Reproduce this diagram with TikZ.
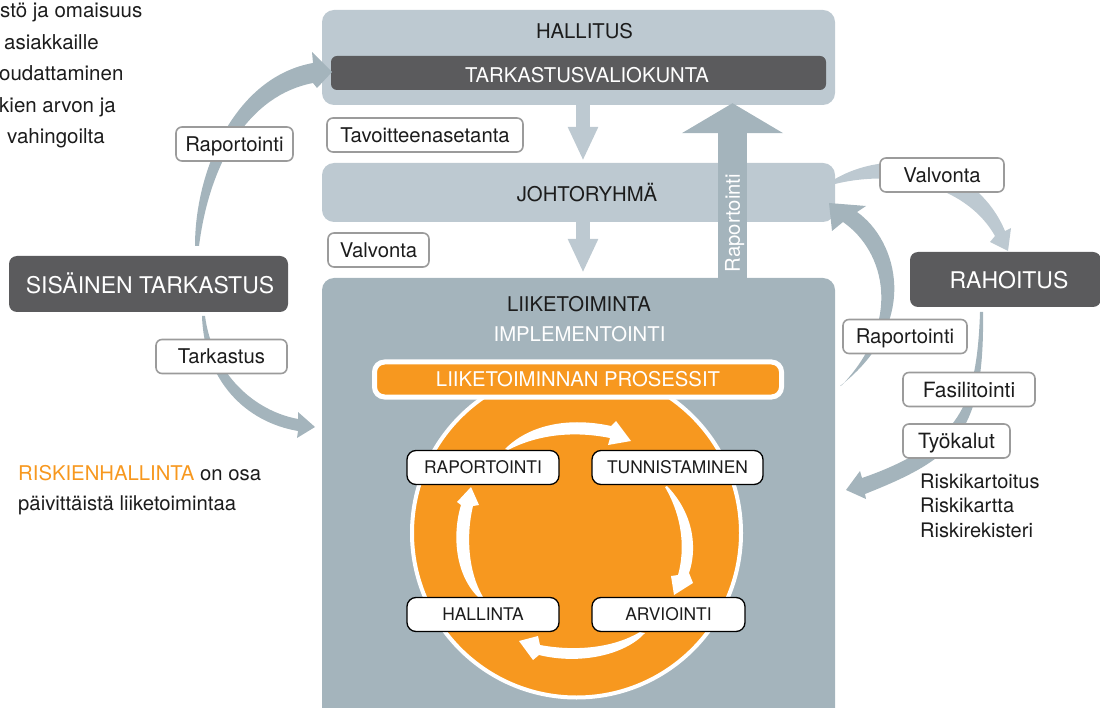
\documentclass[tikz,border=0pt]{standalone}
\usepackage{fontspec}
\setmainfont{TeX Gyre Heros}
\usetikzlibrary{arrows.meta}
\definecolor{lightc}{HTML}{BDC9D1}
\definecolor{midc}{HTML}{A4B4BC}
\definecolor{darkc}{HTML}{5B5B5D}
\definecolor{orangec}{HTML}{F7981F}
\definecolor{bordc}{HTML}{9B9B9B}
\definecolor{txtc}{HTML}{1C1C1C}
\tikzset{
  fA/.style={font=\fontsize{20.3}{24}\selectfont, text height=14.6pt, text depth=0pt},
  fB/.style={font=\fontsize{17.4}{20}\selectfont, text height=12.5pt, text depth=0pt},
  fC/.style={font=\fontsize{23}{27}\selectfont, text height=16.5pt, text depth=0pt},
  fD/.style={font=\fontsize{21}{25}\selectfont, text height=15.1pt, text depth=0pt},
  plain/.style={fA, inner sep=0pt, text=txtc},
  lbl/.style={fA, draw=bordc, line width=1.6pt, fill=white, rounded corners=6pt,
    inner sep=0pt, minimum height=34pt, text=txtc},
  cyc/.style={fB, draw=black, line width=1.3pt, fill=white, rounded corners=9pt,
    inner sep=0pt, minimum height=34pt, text=txtc},
  panel/.style={inner sep=0pt, rounded corners=12pt},
  darkbox/.style={fC, fill=darkc, rounded corners=8pt, text=white, inner sep=0pt},
  para/.style={font=\fontsize{20.5}{24}\selectfont, inner sep=0pt, text=txtc, anchor=base west},
  downarr/.style={lightc, line width=14pt, -{Triangle[length=34pt,width=28pt]}},
  uparr/.style={midc, line width=29pt, -{Triangle[length=30pt,width=100pt]}},
}
\begin{document}
\begin{tikzpicture}[x=1pt,y=-1pt]
\useasboundingbox (0,0) rectangle (1100,708);
\clip (0,0) rectangle (1100,708);

% panels
\node[panel, fill=midc, minimum width=513pt, minimum height=460pt] (liike) at (578.5,508) {};
\node[panel, fill=lightc, minimum width=513pt, minimum height=95pt] (hall) at (578.5,57.5) {};
\node[panel, fill=lightc, minimum width=513pt, minimum height=59pt] (johto) at (578.5,192.5) {};
\node[fill=darkc, rounded corners=6pt, inner sep=0pt, minimum width=495pt, minimum height=34pt] (tvk) at (578.5,73) {};

\node[plain] (hallT) at (584.5,31.5) {HALLITUS};
\node[plain, text=white] (tvkT) at (587,75.5) {TARKASTUSVALIOKUNTA};
\node[plain] (johtoT) at (587,194) {JOHTORYHMÄ};
\node[plain] (liikeT) at (579,304.5) {LIIKETOIMINTA};
\node[plain, text=white] (implT) at (579.5,334.5) {IMPLEMENTOINTI};

% straight arrows
\coordinate (ax) at (583,0);
\coordinate (ux) at (732.5,0);
\draw[downarr, shorten >=2pt] (hall.south -| ax) -- (johto.north -| ax);
\draw[downarr, shorten >=5pt] (johto.south -| ax) -- (liike.north -| ax);
\draw[uparr, shorten >=-2pt] (liike.north -| ux) -- (hall.south -| ux);
\node[plain, text=white, rotate=90] (rapV) at (732.5,223) {Raportointi};

% dark boxes
\node[darkbox, minimum width=279pt, minimum height=56pt] (sis) at (148.5,284) {};
\node[fC, text=white, inner sep=0pt] (sisT) at (150,285) {SISÄINEN TARKASTUS};
\node[darkbox, minimum width=191pt, minimum height=55pt] (rah) at (1005.5,279.5) {};
\node[fC, text=white, inner sep=0pt] (rahT) at (1009,280) {RAHOITUS};

% orange circle and process bar
\fill[orangec] (576.5,533) circle[radius=164.5pt];
\draw[white, line width=4pt] (576.5,533) circle[radius=164.5pt];
\node[fA, fill=orangec, draw=white, line width=5pt, rounded corners=10pt, inner sep=0pt,
  minimum width=407pt, minimum height=35pt, text=white] (proc) at (578,379.5) {LIIKETOIMINNAN PROSESSIT};

% cycle arrows (white, tapered)
\fill[white] (505,449) .. controls (530,424) and (570,417) .. (611,426) -- (616,421) -- (631,441)
  -- (608,445) -- (610,438) .. controls (570,430) and (535,436) .. (508,450) -- cycle;
\fill[white] (667,486) .. controls (695,515) and (697,550) .. (689,573) -- (693,583) -- (674,595)
  -- (671,576) -- (678,575) .. controls (685,550) and (683,518) .. (665,487) -- cycle;
\fill[white] (645,633) .. controls (625,655) and (580,665) .. (539,655) -- (533,660) -- (519,641)
  -- (538,636) -- (540,645) .. controls (578,652) and (615,647) .. (640,632) -- cycle;
\fill[white] (479,598) .. controls (455,575) and (452,535) .. (461,505) -- (457,502) -- (471,487)
  -- (479,505) -- (473,506) .. controls (466,535) and (468,572) .. (483,597) -- cycle;

% cycle nodes
\node[cyc, minimum width=152pt] (c1) at (483,467.5) {RAPORTOINTI};
\node[cyc, minimum width=171pt] (c2) at (677.5,467.5) {TUNNISTAMINEN};
\node[cyc, minimum width=153pt] (c3) at (668.5,614.5) {ARVIOINTI};
\node[cyc, minimum width=152pt] (c4) at (483,614.5) {HALLINTA};

% curved tapered arrows
% SISÄINEN TARKASTUS -> HALLITUS
\fill[midc] (195,246) .. controls (195,170) and (235,77) .. (313,63) -- (312,52) -- (332,72)
  -- (317,88) -- (313,83) .. controls (250,95) and (210,160) .. (199,246) -- cycle;
% SISÄINEN TARKASTUS -> LIIKETOIMINTA
\fill[midc] (202,316) .. controls (204,380) and (245,422) .. (298,431) -- (297,438) -- (315,427)
  -- (298,412) -- (298,419) .. controls (255,411) and (213,375) .. (205,316) -- cycle;
% JOHTORYHMÄ -> RAHOITUS
\fill[lightc] (835,179) .. controls (890,147) and (975,160) .. (1005,231) -- (1011,228) -- (1008,251)
  -- (990,242) -- (995,236) .. controls (968,188) and (900,168) .. (835,184) -- cycle;
% LIIKETOIMINTA -> JOHTORYHMÄ
\fill[midc] (840,386) .. controls (922,322) and (897,240) .. (857,212) -- (866,206) -- (829,203)
  -- (832,231) -- (843,222) .. controls (886,252) and (902,322) .. (842,385) -- cycle;
% RAHOITUS -> LIIKETOIMINTA
\fill[midc] (983,312) .. controls (984,380) and (975,415) .. (955,440) .. controls (935,465) and (900,480) .. (865,494)
  -- (866,499) -- (846,490) -- (860,471) -- (862,478)
  .. controls (897,466) and (928,450) .. (947,430) .. controls (966,410) and (978,380) .. (980,312) -- cycle;

% labels
\node[lbl, minimum width=117pt] (rapL) at (234.5,144) {Raportointi};
\node[lbl, minimum width=196pt] (tav) at (425,135) {Tavoitteenasetanta};
\node[lbl, minimum width=101pt] (valL) at (378.5,250) {Valvonta};
\node[lbl, minimum width=131pt] (tark) at (221.5,356.5) {Tarkastus};
\node[lbl, minimum width=124pt] (valR) at (942,175) {Valvonta};
\node[lbl, minimum width=124pt] (rapR) at (905,336.5) {Raportointi};
\node[lbl, fD, minimum width=132pt] (fas) at (969,389.5) {Fasilitointi};
\node[lbl, fD, minimum width=107pt] (tyo) at (956.5,441) {Työkalut};

% free text
\node[para, font=\fontsize{20}{24}\selectfont] (r1) at (920,488) {Riskikartoitus};
\node[para, font=\fontsize{20}{24}\selectfont] (r2) at (920,512.5) {Riskikartta};
\node[para, font=\fontsize{20}{24}\selectfont] (r3) at (920,537) {Riskirekisteri};

\node[para] (p1) at (0,17.5) {stö ja omaisuus};
\node[para] (p2) at (4,49.5) {asiakkaille};
\node[para] (p3) at (-1,81) {oudattaminen};
\node[para] (p4) at (-1,112.5) {kien arvon ja};
\node[para] (p5) at (7,144) {vahingoilta};

\node[para, font=\fontsize{20.3}{24}\selectfont] (rh1) at (18,480) {\textcolor{orangec}{RISKIENHALLINTA} on osa};
\node[para, font=\fontsize{20.3}{24}\selectfont] (rh2) at (18,510) {päivittäistä liiketoimintaa};
\end{tikzpicture}
\end{document}
